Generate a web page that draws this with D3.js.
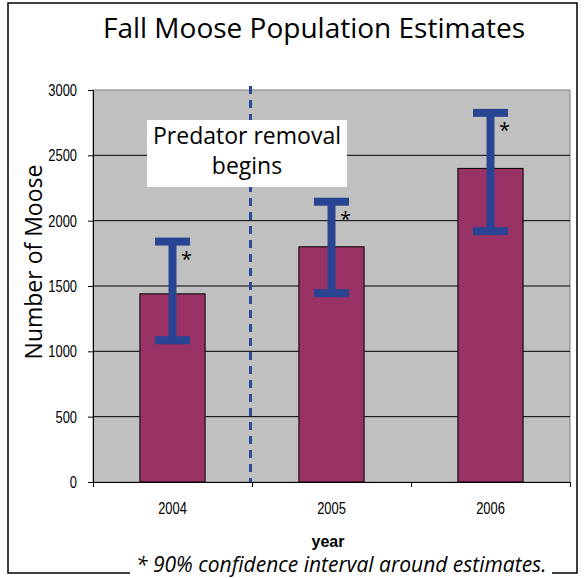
<!DOCTYPE html>
<html lang="en">
<head>
<meta charset="UTF-8">
<script src="https://d3js.org/d3.v7.min.js"></script>
<style>
  body { margin: 0; background: #fff; }
  .tick text { font-family: "Liberation Sans", Arial, sans-serif; font-size: 17px; fill: #000; }
</style>
</head>
<body>
<div id="chart"></div>
<script>
// data
var years = ["2004", "2005", "2006"];
var estimates = [1440, 1800, 2400];
var upper = [1840, 2145, 2825];
var lower = [1085, 1445, 1920];
var yTicks = [0, 500, 1000, 1500, 2000, 2500, 3000];

var W = 585, H = 578;
var margin = {top: 90, left: 93},
    width = 477,
    height = 392;
var squeeze = 0.76; // tick labels are set in a narrow face

var svg = d3.select("#chart").append("svg")
    .attr("width", W).attr("height", H);

svg.append("rect").attr("width", W).attr("height", H).attr("fill", "#fff");

// outer frame, broken at the footnote
svg.append("path")
    .attr("d", "M130,573 H8 V3 H577 V573 H552")
    .attr("fill", "none").attr("stroke", "#000").attr("stroke-width", 1.5);

var g = svg.append("g")
    .attr("transform", "translate(" + margin.left + "," + margin.top + ")");

var x = d3.scaleBand().domain(years).range([0, width])
    .paddingInner(0.59).paddingOuter(0.295);
var xEdge = d3.scaleLinear().domain([0, years.length]).range([0, width]);
var y = d3.scaleLinear().domain([0, 3000]).range([height, 0]);

g.append("rect")
    .attr("width", width).attr("height", height)
    .attr("fill", "#c0c0c0").attr("stroke", "#808080").attr("stroke-width", 1);

// gridlines
g.selectAll(".grid")
  .data(yTicks.filter(function(d) { return d > 0 && d < 3000; }))
  .enter().append("line")
    .attr("x1", 0).attr("x2", width)
    .attr("y1", function(d) { return y(d); })
    .attr("y2", function(d) { return y(d); })
    .attr("stroke", "#000").attr("stroke-width", 1);

// predator removal marker
g.append("line")
    .attr("x1", xEdge(1) - 1.5).attr("x2", xEdge(1) - 1.5)
    .attr("y1", -4).attr("y2", height)
    .attr("stroke", "#2b4a9b").attr("stroke-width", 3)
    .attr("stroke-dasharray", "8,6");

// bars
g.selectAll(".bar")
  .data(years)
  .enter().append("rect")
    .attr("x", function(d) { return x(d); })
    .attr("y", function(d, i) { return y(estimates[i]); })
    .attr("width", x.bandwidth())
    .attr("height", function(d, i) { return height - y(estimates[i]); })
    .attr("fill", "#993366")
    .attr("stroke", "#000").attr("stroke-width", 1);

// error bars
var errColor = "#2a4494";
var cx = function(d) { return x(d) + x.bandwidth() / 2; };
var eb = g.selectAll(".err").data(years).enter().append("g");
eb.append("rect")
    .attr("x", function(d) { return cx(d) - 4; })
    .attr("y", function(d, i) { return y(upper[i]); })
    .attr("width", 8)
    .attr("height", function(d, i) { return y(lower[i]) - y(upper[i]); })
    .attr("fill", errColor);
eb.append("rect")
    .attr("x", function(d) { return cx(d) - 17.5; })
    .attr("y", function(d, i) { return y(upper[i]) - 4; })
    .attr("width", 35).attr("height", 8)
    .attr("fill", errColor);
eb.append("rect")
    .attr("x", function(d) { return cx(d) - 17.5; })
    .attr("y", function(d, i) { return y(lower[i]) - 4; })
    .attr("width", 35).attr("height", 8)
    .attr("fill", errColor);
eb.append("text")
    .attr("x", function(d) { return cx(d) + 14; })
    .attr("y", function(d, i) { return y(upper[i]) + 24; })
    .attr("text-anchor", "middle")
    .style("font-family", "'Open Sans', sans-serif")
    .style("font-size", "20px")
    .text("*");

// annotation box
g.append("rect")
    .attr("x", 54).attr("y", 30).attr("width", 200).attr("height", 67)
    .attr("fill", "#fff");
g.append("text")
    .attr("text-anchor", "middle")
    .style("font-family", "'Open Sans', sans-serif")
    .style("font-size", "23px")
    .selectAll("tspan")
    .data(["Predator removal", "begins"])
    .enter().append("tspan")
      .attr("x", 154)
      .attr("y", function(d, i) { return 54 + i * 30; })
      .text(function(d) { return d; });

// axes
var yAxis = g.append("g")
    .call(d3.axisLeft(y).tickValues(yTicks).tickFormat(d3.format("d"))
      .tickSize(5).tickPadding(11).tickSizeOuter(0));
yAxis.select(".domain").attr("stroke", "#000");
yAxis.selectAll(".tick text")
    .attr("x", 0)
    .attr("transform", "translate(-16,0) scale(" + squeeze + ",1)");

var xAxis = g.append("g")
    .attr("transform", "translate(0," + height + ")")
    .call(d3.axisBottom(xEdge).ticks(3).tickSize(5).tickSizeOuter(0).tickFormat(""));
xAxis.select(".domain").attr("stroke", "#000");

var xLabels = g.append("g")
    .attr("transform", "translate(0," + height + ")")
    .call(d3.axisBottom(x).tickSize(0).tickPadding(20));
xLabels.select(".domain").remove();
xLabels.selectAll(".tick text")
    .attr("transform", "scale(" + squeeze + ",1)");

// titles
svg.append("text")
    .attr("x", 314).attr("y", 38)
    .attr("text-anchor", "middle")
    .style("font-family", "'Open Sans', sans-serif")
    .style("font-size", "28px")
    .text("Fall Moose Population Estimates");

svg.append("text")
    .attr("transform", "translate(42,262) rotate(-90)")
    .attr("text-anchor", "middle")
    .style("font-family", "'Open Sans', sans-serif")
    .style("font-size", "23px")
    .text("Number of Moose");

svg.append("text")
    .attr("x", 328).attr("y", 547)
    .attr("text-anchor", "middle")
    .style("font-family", "'Liberation Sans', Arial, sans-serif")
    .style("font-size", "16px")
    .style("font-weight", "bold")
    .text("year");

svg.append("text")
    .attr("x", 136).attr("y", 572)
    .style("font-family", "'Open Sans', sans-serif")
    .style("font-size", "21px")
    .style("font-style", "italic")
    .text("* 90% confidence interval around estimates.");
</script>
</body>
</html>
